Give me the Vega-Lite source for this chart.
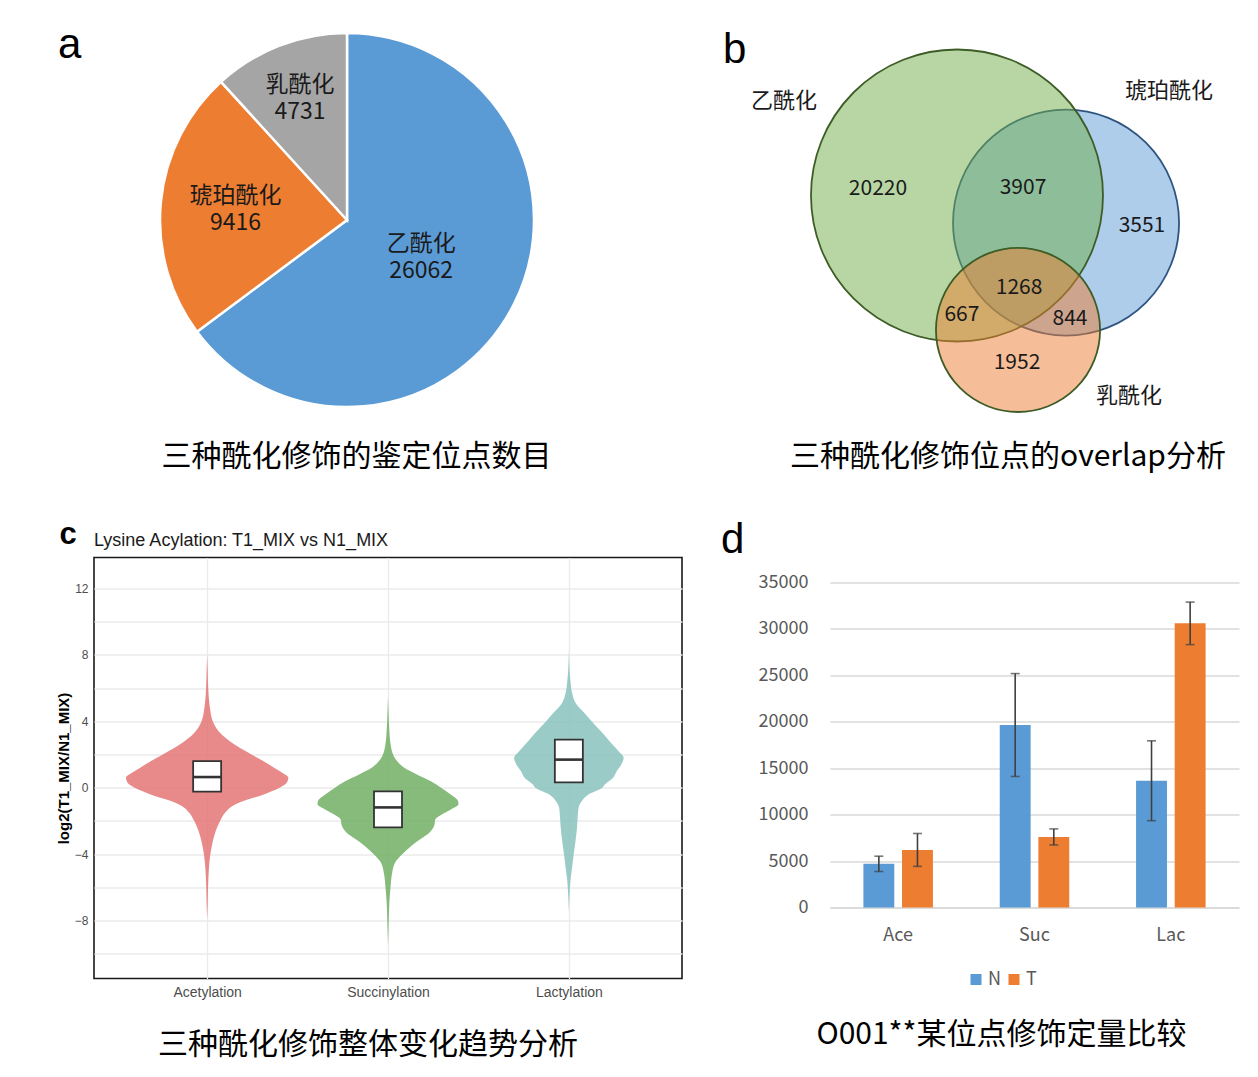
{
  "$schema": "https://vega.github.io/schema/vega-lite/v6.json",
  "background": "white",
  "padding": {"left": 55, "top": 24, "right": 10, "bottom": 20},
  "config": {
    "view": {"stroke": null},
    "font": "Noto Sans CJK SC"
  },
  "resolve": {"scale": {"color": "independent", "stroke": "independent", "size": "independent", "x": "independent", "y": "independent", "theta": "independent"}},
  "spacing": 46.5,
  "vconcat": [
    {
      "spacing": 123,
      "resolve": {"scale": {"color": "independent", "stroke": "independent", "size": "independent", "x": "independent", "y": "independent", "theta": "independent"}},
      "hconcat": [
        {
          "title": {"text": "三种酰化修饰的鉴定位点数目", "orient": "bottom", "anchor": "middle", "font": "Noto Sans CJK SC", "fontSize": 30, "fontWeight": "normal", "color": "#000000", "offset": 53.5, "baseline": "alphabetic", "dx": 27.5},
          "vconcat": [
            {
              "width": 506,
              "height": 374,
              "title": {"text": "a", "anchor": "start", "frame": "group", "font": "Liberation Sans", "fontSize": 42, "fontWeight": "normal", "color": "#000000", "offset": 0, "baseline": "alphabetic", "dx": -36, "dy": 72},
              "data": {"values": [
                {"type": "乙酰化", "count": 26062},
                {"type": "琥珀酰化", "count": 9416},
                {"type": "乳酰化", "count": 4731}
              ]},
              "encoding": {
                "theta": {"field": "count", "type": "quantitative", "stack": true},
                "order": {"field": "count", "type": "quantitative", "sort": "descending"}
              },
              "layer": [
                {
                  "mark": {"type": "arc", "outerRadius": 187, "stroke": "white", "strokeWidth": 2.5},
                  "encoding": {
                    "color": {"field": "type", "type": "nominal", "legend": null,
                      "scale": {"domain": ["乙酰化", "琥珀酰化", "乳酰化"], "range": ["#5B9BD5", "#ED7D31", "#A5A5A5"]}}
                  }
                },
                {
                  "mark": {"type": "text", "radius": 83, "dy": -13.5, "fontSize": 23, "color": "#1a1a1a"},
                  "encoding": {"text": {"condition": {"test": "datum.type === '乙酰化'", "field": "type", "type": "nominal"}, "value": ""}}
                },
                {
                  "mark": {"type": "text", "radius": 83, "dy": 13.5, "fontSize": 23, "color": "#1a1a1a"},
                  "encoding": {"text": {"condition": {"test": "datum.type === '乙酰化'", "field": "count", "type": "quantitative", "format": "d"}, "value": ""}}
                },
                {
                  "mark": {"type": "text", "radius": 112, "dy": -13.5, "fontSize": 23, "color": "#1a1a1a"},
                  "encoding": {"text": {"condition": {"test": "datum.type === '琥珀酰化'", "field": "type", "type": "nominal"}, "value": ""}}
                },
                {
                  "mark": {"type": "text", "radius": 112, "dy": 13.5, "fontSize": 23, "color": "#1a1a1a"},
                  "encoding": {"text": {"condition": {"test": "datum.type === '琥珀酰化'", "field": "count", "type": "quantitative", "format": "d"}, "value": ""}}
                },
                {
                  "mark": {"type": "text", "radius": 130, "dy": -13.5, "fontSize": 23, "color": "#1a1a1a"},
                  "encoding": {"text": {"condition": {"test": "datum.type === '乳酰化'", "field": "type", "type": "nominal"}, "value": ""}}
                },
                {
                  "mark": {"type": "text", "radius": 130, "dy": 13.5, "fontSize": 23, "color": "#1a1a1a"},
                  "encoding": {"text": {"condition": {"test": "datum.type === '乳酰化'", "field": "count", "type": "quantitative", "format": "d"}, "value": ""}}
                }
              ]
            }
          ]
        },
        {
          "width": 433,
          "height": 380,
          "title": {"text": "b", "anchor": "start", "frame": "group", "font": "Liberation Sans", "fontSize": 42, "fontWeight": "normal", "color": "#000000", "offset": 0, "baseline": "alphabetic", "dx": -68, "dy": 72},
          "encoding": {
            "x": {"field": "x", "type": "quantitative", "scale": {"domain": [-1.137, 1.829], "nice": false, "zero": false},
              "axis": {"title": "三种酰化修饰位点的overlap分析", "titleFont": "Noto Sans CJK SC", "titleFontSize": 30, "titleFontWeight": "normal", "titleColor": "#000000", "titleBaseline": "alphabetic", "titlePadding": 52.5,
                "labels": false, "ticks": false, "domain": false, "grid": false}},
            "y": {"field": "y", "type": "quantitative", "axis": null, "scale": {"domain": [-1.49, 1.113], "nice": false, "zero": false}}
          },
          "layer": [
            {
              "data": {"values": [
                {"set": "琥珀酰化", "x": 0.747, "y": -0.186, "r": 0.774},
                {"set": "乙酰化", "x": 0.0, "y": 0.0, "r": 1.0},
                {"set": "乳酰化", "x": 0.418, "y": -0.921, "r": 0.562}
              ]},
              "mark": {"type": "point", "shape": "circle", "filled": true, "opacity": 1, "fillOpacity": 0.5, "strokeOpacity": 1, "strokeWidth": 1.8},
              "encoding": {
                "size": {"field": "r", "type": "quantitative", "legend": null, "scale": {"type": "pow", "exponent": 2, "domain": [0, 1], "range": [0, 85264]}},
                "color": {"field": "set", "type": "nominal", "legend": null,
                  "scale": {"domain": ["乙酰化", "琥珀酰化", "乳酰化"], "range": ["#70AD47", "#5B9BD5", "#ED7D31"]}},
                "stroke": {"field": "set", "type": "nominal", "legend": null,
                  "scale": {"domain": ["乙酰化", "琥珀酰化", "乳酰化"], "range": ["#3d5c26", "#2f5480", "#3d5c26"]}}
              }
            },
            {
              "data": {"values": [
                {"name": "乙酰化", "x": -1.185, "y": 0.647},
                {"name": "琥珀酰化", "x": 1.452, "y": 0.716},
                {"name": "乳酰化", "x": 1.178, "y": -1.373}
              ]},
              "mark": {"type": "text", "fontSize": 22, "color": "#1a1a1a"},
              "encoding": {"text": {"field": "name"}}
            },
            {
              "data": {"values": [
                {"n": 20220, "x": -0.541, "y": 0.045},
                {"n": 3907, "x": 0.452, "y": 0.051},
                {"n": 3551, "x": 1.267, "y": -0.209},
                {"n": 1268, "x": 0.425, "y": -0.634},
                {"n": 667, "x": 0.034, "y": -0.818},
                {"n": 844, "x": 0.774, "y": -0.846},
                {"n": 1952, "x": 0.411, "y": -1.147}
              ]},
              "mark": {"type": "text", "fontSize": 21, "color": "#1a1a1a"},
              "encoding": {"text": {"field": "n", "type": "quantitative", "format": "d"}}
            }
          ]
        }
      ]
    },
    {
      "spacing": 38,
      "resolve": {"scale": {"color": "independent", "stroke": "independent", "size": "independent", "x": "independent", "y": "independent", "theta": "independent"}},
      "hconcat": [
        {
          "title": {"text": "c", "anchor": "start", "font": "Liberation Sans", "fontSize": 31, "fontWeight": "bold", "color": "#000000", "offset": -26, "baseline": "alphabetic", "dx": 4, "dy": 18},
          "vconcat": [
            {
              "width": 588,
              "height": 421,
              "title": {"text": "Lysine Acylation: T1_MIX vs N1_MIX", "anchor": "start", "frame": "group", "font": "Liberation Sans", "fontSize": 18, "fontWeight": "normal", "color": "#1a1a1a", "offset": 11, "baseline": "alphabetic", "dy": 17},
              "view": {"stroke": "#1a1a1a", "strokeWidth": 1.6},
              "layer": [
                {
                  "data": {"values": [
                    {"c": "Acetylation", "y": 8.0, "lo": 1.0, "hi": 1.0},
                    {"c": "Acetylation", "y": 7.0, "lo": 0.997, "hi": 1.003},
                    {"c": "Acetylation", "y": 6.0, "lo": 0.994, "hi": 1.006},
                    {"c": "Acetylation", "y": 5.2, "lo": 0.989, "hi": 1.011},
                    {"c": "Acetylation", "y": 4.6, "lo": 0.982, "hi": 1.018},
                    {"c": "Acetylation", "y": 4.0, "lo": 0.969, "hi": 1.031},
                    {"c": "Acetylation", "y": 3.6, "lo": 0.95, "hi": 1.05},
                    {"c": "Acetylation", "y": 3.2, "lo": 0.92, "hi": 1.08},
                    {"c": "Acetylation", "y": 2.8, "lo": 0.875, "hi": 1.125},
                    {"c": "Acetylation", "y": 2.4, "lo": 0.82, "hi": 1.18},
                    {"c": "Acetylation", "y": 2.0, "lo": 0.755, "hi": 1.245},
                    {"c": "Acetylation", "y": 1.6, "lo": 0.69, "hi": 1.31},
                    {"c": "Acetylation", "y": 1.2, "lo": 0.63, "hi": 1.37},
                    {"c": "Acetylation", "y": 0.9, "lo": 0.585, "hi": 1.415},
                    {"c": "Acetylation", "y": 0.6, "lo": 0.551, "hi": 1.449},
                    {"c": "Acetylation", "y": 0.3, "lo": 0.56, "hi": 1.44},
                    {"c": "Acetylation", "y": 0.0, "lo": 0.6, "hi": 1.4},
                    {"c": "Acetylation", "y": -0.2, "lo": 0.64, "hi": 1.36},
                    {"c": "Acetylation", "y": -0.5, "lo": 0.71, "hi": 1.29},
                    {"c": "Acetylation", "y": -0.8, "lo": 0.8, "hi": 1.2},
                    {"c": "Acetylation", "y": -1.1, "lo": 0.86, "hi": 1.14},
                    {"c": "Acetylation", "y": -1.5, "lo": 0.9, "hi": 1.1},
                    {"c": "Acetylation", "y": -2.0, "lo": 0.928, "hi": 1.072},
                    {"c": "Acetylation", "y": -2.6, "lo": 0.952, "hi": 1.048},
                    {"c": "Acetylation", "y": -3.2, "lo": 0.968, "hi": 1.032},
                    {"c": "Acetylation", "y": -4.0, "lo": 0.982, "hi": 1.018},
                    {"c": "Acetylation", "y": -5.0, "lo": 0.991, "hi": 1.009},
                    {"c": "Acetylation", "y": -6.0, "lo": 0.995, "hi": 1.005},
                    {"c": "Acetylation", "y": -7.0, "lo": 0.997, "hi": 1.003},
                    {"c": "Acetylation", "y": -7.9, "lo": 1.0, "hi": 1.0},
                    {"c": "Succinylation", "y": 5.5, "lo": 2.0, "hi": 2.0},
                    {"c": "Succinylation", "y": 4.5, "lo": 1.997, "hi": 2.003},
                    {"c": "Succinylation", "y": 3.5, "lo": 1.993, "hi": 2.007},
                    {"c": "Succinylation", "y": 2.5, "lo": 1.984, "hi": 2.016},
                    {"c": "Succinylation", "y": 2.0, "lo": 1.972, "hi": 2.028},
                    {"c": "Succinylation", "y": 1.6, "lo": 1.95, "hi": 2.05},
                    {"c": "Succinylation", "y": 1.2, "lo": 1.91, "hi": 2.09},
                    {"c": "Succinylation", "y": 0.8, "lo": 1.84, "hi": 2.16},
                    {"c": "Succinylation", "y": 0.4, "lo": 1.765, "hi": 2.235},
                    {"c": "Succinylation", "y": 0.0, "lo": 1.707, "hi": 2.293},
                    {"c": "Succinylation", "y": -0.4, "lo": 1.655, "hi": 2.345},
                    {"c": "Succinylation", "y": -0.8, "lo": 1.613, "hi": 2.387},
                    {"c": "Succinylation", "y": -1.0, "lo": 1.61, "hi": 2.39},
                    {"c": "Succinylation", "y": -1.3, "lo": 1.65, "hi": 2.35},
                    {"c": "Succinylation", "y": -1.6, "lo": 1.7, "hi": 2.3},
                    {"c": "Succinylation", "y": -1.9, "lo": 1.738, "hi": 2.262},
                    {"c": "Succinylation", "y": -2.3, "lo": 1.745, "hi": 2.255},
                    {"c": "Succinylation", "y": -2.7, "lo": 1.77, "hi": 2.23},
                    {"c": "Succinylation", "y": -3.1, "lo": 1.82, "hi": 2.18},
                    {"c": "Succinylation", "y": -3.5, "lo": 1.87, "hi": 2.13},
                    {"c": "Succinylation", "y": -4.0, "lo": 1.92, "hi": 2.08},
                    {"c": "Succinylation", "y": -4.5, "lo": 1.96, "hi": 2.04},
                    {"c": "Succinylation", "y": -5.2, "lo": 1.978, "hi": 2.022},
                    {"c": "Succinylation", "y": -6.0, "lo": 1.986, "hi": 2.014},
                    {"c": "Succinylation", "y": -7.0, "lo": 1.993, "hi": 2.007},
                    {"c": "Succinylation", "y": -8.0, "lo": 1.996, "hi": 2.004},
                    {"c": "Succinylation", "y": -9.5, "lo": 2.0, "hi": 2.0},
                    {"c": "Lactylation", "y": 8.3, "lo": 3.0, "hi": 3.0},
                    {"c": "Lactylation", "y": 7.0, "lo": 2.996, "hi": 3.004},
                    {"c": "Lactylation", "y": 6.4, "lo": 2.991, "hi": 3.009},
                    {"c": "Lactylation", "y": 5.7, "lo": 2.982, "hi": 3.018},
                    {"c": "Lactylation", "y": 5.05, "lo": 2.96, "hi": 3.04},
                    {"c": "Lactylation", "y": 4.45, "lo": 2.91, "hi": 3.09},
                    {"c": "Lactylation", "y": 3.85, "lo": 2.862, "hi": 3.138},
                    {"c": "Lactylation", "y": 3.25, "lo": 2.81, "hi": 3.19},
                    {"c": "Lactylation", "y": 2.8, "lo": 2.775, "hi": 3.225},
                    {"c": "Lactylation", "y": 2.2, "lo": 2.725, "hi": 3.275},
                    {"c": "Lactylation", "y": 1.8, "lo": 2.697, "hi": 3.303},
                    {"c": "Lactylation", "y": 1.4, "lo": 2.71, "hi": 3.29},
                    {"c": "Lactylation", "y": 1.0, "lo": 2.735, "hi": 3.265},
                    {"c": "Lactylation", "y": 0.6, "lo": 2.755, "hi": 3.245},
                    {"c": "Lactylation", "y": 0.2, "lo": 2.8, "hi": 3.2},
                    {"c": "Lactylation", "y": 0.0, "lo": 2.815, "hi": 3.185},
                    {"c": "Lactylation", "y": -0.4, "lo": 2.89, "hi": 3.11},
                    {"c": "Lactylation", "y": -0.8, "lo": 2.928, "hi": 3.072},
                    {"c": "Lactylation", "y": -1.2, "lo": 2.946, "hi": 3.054},
                    {"c": "Lactylation", "y": -1.6, "lo": 2.95, "hi": 3.05},
                    {"c": "Lactylation", "y": -2.4, "lo": 2.955, "hi": 3.045},
                    {"c": "Lactylation", "y": -3.2, "lo": 2.963, "hi": 3.037},
                    {"c": "Lactylation", "y": -4.0, "lo": 2.973, "hi": 3.027},
                    {"c": "Lactylation", "y": -4.8, "lo": 2.982, "hi": 3.018},
                    {"c": "Lactylation", "y": -5.6, "lo": 2.991, "hi": 3.009},
                    {"c": "Lactylation", "y": -6.4, "lo": 2.996, "hi": 3.004},
                    {"c": "Lactylation", "y": -7.5, "lo": 3.0, "hi": 3.0}
                  ]},
                  "mark": {"type": "area", "orient": "horizontal", "opacity": 0.85, "interpolate": "monotone"},
                  "encoding": {
                    "y": {"field": "y", "type": "quantitative", "scale": {"domain": [-11.5, 13.87], "nice": false, "zero": false},
                      "axis": {"title": "log2(T1_MIX/N1_MIX)", "titleFont": "Liberation Sans", "titleFontSize": 15, "titleFontWeight": "bold", "titleColor": "#000000", "titlePadding": 3,
                        "values": [-10, -8, -6, -4, -2, 0, 2, 4, 6, 8, 10, 12], "tickCount": 30,
                        "labelExpr": "datum.value % 4 === 0 ? datum.label : ''",
                        "labelFont": "Liberation Sans", "labelFontSize": 12, "labelColor": "#4d4d4d", "labelPadding": 6,
                        "ticks": false, "tickSize": 0, "domain": false,
                        "grid": true, "gridColor": "#ebebeb", "gridWidth": 1.3}},
                    "x": {"field": "lo", "type": "quantitative", "scale": {"domain": [0.402, 3.598], "nice": false, "zero": false},
                      "axis": {"title": "三种酰化修饰整体变化趋势分析", "titleFont": "Noto Sans CJK SC", "titleFontSize": 30, "titleFontWeight": "normal", "titleColor": "#000000", "titleBaseline": "alphabetic", "titlePadding": 53.5, "titleX": 273.5,
                        "values": [1, 2, 3],
                        "labelExpr": "datum.value === 1 ? 'Acetylation' : datum.value === 2 ? 'Succinylation' : 'Lactylation'",
                        "labelFont": "Liberation Sans", "labelFontSize": 14, "labelColor": "#4d4d4d", "labelPadding": 7,
                        "ticks": false, "tickSize": 0, "domain": false,
                        "grid": true, "gridColor": "#ebebeb", "gridWidth": 1.3}},
                    "x2": {"field": "hi"},
                    "color": {"field": "c", "type": "nominal", "legend": null,
                      "scale": {"domain": ["Acetylation", "Succinylation", "Lactylation"], "range": ["#E47575", "#71AF65", "#8AC2BC"]}}
                  }
                },
                {
                  "mark": {"type": "rule", "color": "#7a7a7a", "strokeDash": [5, 4], "strokeWidth": 1.4},
                  "encoding": {"y": {"datum": 0}}
                },
                {
                  "data": {"values": [
                    {"c": "Acetylation", "pos": 1, "q1": -0.24, "med": 0.64, "q3": 1.6},
                    {"c": "Succinylation", "pos": 2, "q1": -2.39, "med": -1.19, "q3": -0.22},
                    {"c": "Lactylation", "pos": 3, "q1": 0.32, "med": 1.69, "q3": 2.89}
                  ]},
                  "layer": [
                    {
                      "mark": {"type": "bar", "width": 28, "fill": "white", "stroke": "#333333", "strokeWidth": 1.8},
                      "encoding": {
                        "x": {"field": "pos", "type": "quantitative"},
                        "y": {"field": "q1", "type": "quantitative"},
                        "y2": {"field": "q3"}
                      }
                    },
                    {
                      "mark": {"type": "tick", "orient": "horizontal", "size": 28, "thickness": 2.6, "color": "#333333", "opacity": 1},
                      "encoding": {
                        "x": {"field": "pos", "type": "quantitative"},
                        "y": {"field": "med", "type": "quantitative"}
                      }
                    }
                  ]
                }
              ]
            }
          ]
        },
        {
          "width": 409,
          "height": 350,
          "title": {"text": "d", "anchor": "start", "frame": "group", "font": "Liberation Sans", "fontSize": 42, "fontWeight": "normal", "color": "#000000", "offset": 0, "baseline": "alphabetic", "dx": -109, "dy": 37},
          "data": {"values": [
            {"g": "Ace", "s": "N", "v": 4700, "e": 825},
            {"g": "Ace", "s": "T", "v": 6200, "e": 1770},
            {"g": "Suc", "s": "N", "v": 19650, "e": 5540},
            {"g": "Suc", "s": "T", "v": 7600, "e": 865},
            {"g": "Lac", "s": "N", "v": 13650, "e": 4300},
            {"g": "Lac", "s": "T", "v": 30600, "e": 2290}
          ]},
          "encoding": {
            "x": {"field": "g", "type": "nominal", "sort": ["Ace", "Suc", "Lac"],
              "scale": {"paddingInner": 0.49, "paddingOuter": 0.245},
              "axis": {"title": "O001**某位点修饰定量比较", "titleFont": "Noto Sans CJK SC", "titleFontSize": 30, "titleFontWeight": "normal", "titleColor": "#000000", "titleBaseline": "alphabetic", "titlePadding": 99, "titleX": 171,
                "labelAngle": 0, "labelFontSize": 18, "labelColor": "#595959", "labelPadding": 19,
                "ticks": false, "tickSize": 0, "domain": true, "domainColor": "#d9d9d9", "domainWidth": 1.5}},
            "xOffset": {"field": "s", "type": "nominal", "sort": ["N", "T"], "scale": {"paddingInner": 0.2, "paddingOuter": 0}}
          },
          "layer": [
            {
              "mark": {"type": "bar"},
              "encoding": {
                "y": {"field": "v", "type": "quantitative", "scale": {"domain": [0, 37692], "nice": false},
                  "axis": {"title": null, "values": [0, 5000, 10000, 15000, 20000, 25000, 30000, 35000], "format": "d", "tickCount": 20,
                    "labelFontSize": 18, "labelColor": "#595959", "labelPadding": 22,
                    "ticks": false, "tickSize": 0, "domain": false, "grid": true, "gridColor": "#d9d9d9", "gridWidth": 1.5}},
                "color": {"field": "s", "type": "nominal", "title": null,
                  "scale": {"domain": ["N", "T"], "range": ["#5B9BD5", "#ED7D31"]},
                  "legend": {"orient": "none", "legendX": 137, "legendY": 413, "direction": "horizontal", "symbolType": "square", "symbolSize": 121, "symbolStrokeWidth": 0,
                    "labelFontSize": 18, "labelColor": "#595959", "labelOffset": 3, "columnPadding": 3}}
              }
            },
            {
              "mark": {"type": "errorbar", "ticks": {"size": 9, "thickness": 1.6, "color": "#404040"}, "rule": {"strokeWidth": 1.6, "color": "#404040"}},
              "encoding": {
                "y": {"field": "v", "type": "quantitative", "title": null},
                "yError": {"field": "e"}
              }
            }
          ]
        }
      ]
    }
  ]
}
